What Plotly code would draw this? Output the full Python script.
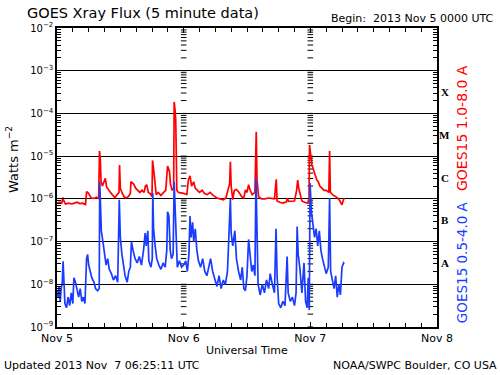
import pandas as pd
import plotly.graph_objects as go

# ---- data (hours since 2013-11-05 00:00 UTC, log10 flux in W m^-2) ----
long_hours = [0.0, 0.5, 0.9, 1.1, 1.3, 1.6, 2.2, 2.8, 3.3, 3.8, 4.3, 4.8, 5.4, 5.6, 5.9, 6.2, 6.5, 7.0, 7.5, 7.9,
              8.05, 8.2, 8.35, 8.6, 8.9, 9.16, 9.4, 9.8, 10.2, 10.6, 11.0, 11.4, 11.75, 11.85, 12.0, 12.3, 12.7,
              13.1, 13.5, 13.9, 14.0, 14.5, 14.9, 15.3, 15.7, 16.1, 16.5, 16.75, 17.0, 17.3, 17.7, 18.0, 18.1,
              18.3, 18.5, 18.8, 19.2, 19.7, 20.2, 20.6, 20.95, 21.3, 21.5, 21.8, 22.1, 22.2, 22.35, 22.5, 22.7,
              23.0, 23.5, 24.0, 24.6, 24.9, 25.2, 25.5, 25.9, 26.2, 26.6, 27.0, 27.5, 28.0, 28.5, 29.0, 29.6,
              30.3, 30.9, 31.5, 32.0, 32.4, 32.7, 32.85, 33.0, 33.3, 33.6, 34.0, 34.5, 35.0, 35.4, 35.7, 36.0,
              36.3, 36.6, 37.0, 37.5, 37.75, 37.9, 38.2, 38.8, 39.4, 40.0, 40.6, 41.2, 41.55, 41.7, 42.2, 42.8,
              43.5, 43.6, 43.9, 44.5, 45.0, 45.4, 45.6, 45.8, 46.1, 46.4, 46.9, 47.4, 47.75, 47.85, 48.0, 48.3,
              48.6, 48.9, 49.2, 49.5, 49.8, 50.2, 50.6, 51.0, 51.5, 51.65, 51.8, 52.2, 52.7, 53.2, 53.6, 54.0,
              54.2, 54.44]
long_logflux = [-6.10, -6.08, -6.10, -5.97, -6.05, -6.12, -6.10, -6.12, -6.10, -6.08, -6.11, -6.10, -6.13, -5.83,
                -5.86, -5.92, -5.98, -5.99, -5.96, -6.00, -4.88, -5.05, -5.60, -5.70, -5.62, -5.52, -5.72, -5.80,
                -5.86, -5.92, -5.97, -5.90, -5.85, -5.21, -5.75, -5.85, -5.95, -5.98, -5.95, -5.88, -5.60, -5.65,
                -5.75, -5.80, -5.85, -5.80, -5.85, -5.70, -5.67, -5.85, -5.88, -5.95, -5.10, -5.30, -5.60, -5.90,
                -5.85, -5.92, -5.85, -5.80, -5.23, -5.35, -5.65, -5.80, -5.75, -3.73, -3.90, -4.16, -5.80, -5.85,
                -5.86, -5.87, -5.90, -5.55, -5.46, -5.70, -5.60, -5.75, -5.80, -5.85, -5.80, -5.88, -5.90, -5.85,
                -5.92, -5.98, -6.00, -6.02, -5.98, -5.75, -5.65, -5.13, -5.70, -6.02, -5.80, -5.78, -5.85, -5.95,
                -5.98, -5.79, -5.85, -5.67, -5.80, -5.90, -5.85, -4.43, -5.56, -5.95, -6.00, -6.00, -5.98, -5.99,
                -6.00, -5.54, -6.05, -6.08, -6.10, -6.07, -5.98, -6.06, -6.06, -6.05, -5.80, -5.56, -5.75, -5.90,
                -6.05, -6.08, -6.10, -6.05, -4.74, -4.90, -5.20, -5.32, -5.45, -5.55, -5.60, -5.70, -5.75, -5.80,
                -5.80, -5.85, -4.88, -5.85, -5.90, -5.95, -5.98, -6.05, -6.14, -6.05, -5.98]

short_hours = [0.0, 0.2, 0.4, 0.6, 0.8, 1.0, 1.15, 1.3, 1.5, 1.8, 2.1, 2.4, 2.7, 3.0, 3.2, 3.5, 3.8, 4.1, 4.4, 4.7,
               5.0, 5.3, 5.6, 5.8, 6.0, 6.3, 6.6, 7.0, 7.3, 7.7, 8.0, 8.1, 8.25, 8.4, 8.7, 9.0, 9.3, 9.6, 9.9, 10.3,
               10.7, 11.1, 11.5, 11.8, 12.0, 12.3, 12.6, 12.9, 13.3, 13.6, 13.9, 14.1, 14.4, 14.8, 15.2, 15.6, 16.0,
               16.4, 16.7, 16.9, 17.2, 17.4, 17.8, 18.05, 18.15, 18.3, 18.6, 18.9, 19.3, 19.7, 20.1, 20.5, 20.8,
               20.95, 21.2, 21.45, 21.7, 22.0, 22.2, 22.35, 22.55, 22.8, 23.2, 23.6, 24.0, 24.4, 24.7, 25.0, 25.2,
               25.4, 25.7, 25.9, 26.2, 26.5, 26.8, 27.2, 27.6, 28.0, 28.4, 28.8, 29.1, 29.5, 29.9, 30.3, 30.7,
               31.1, 31.5, 31.9, 32.3, 32.6, 32.85, 33.0, 33.3, 33.7, 34.0, 34.4, 34.8, 35.1, 35.4, 35.7, 36.0,
               36.3, 36.6, 36.9, 37.2, 37.5, 37.7, 37.85, 38.1, 38.5, 38.9, 39.3, 39.7, 40.1, 40.4, 40.8, 41.2,
               41.5, 41.7, 42.0, 42.4, 42.8, 43.2, 43.6, 43.8, 44.2, 44.6, 45.0, 45.3, 45.5, 45.7, 46.0, 46.4,
               46.8, 47.1, 47.4, 47.6, 47.8, 47.95, 48.2, 48.5, 48.8, 49.1, 49.4, 49.7, 50.0, 50.3, 50.6, 51.0,
               51.4, 51.65, 51.85, 52.2, 52.5, 52.8, 53.1, 53.4, 53.7, 54.0, 54.3, 54.44]
short_logflux = [-8.16, -8.30, -8.05, -8.40, -8.10, -7.95, -7.46, -8.00, -8.45, -8.55, -8.30, -8.50, -8.20, -8.45,
                 -7.85, -7.95, -8.15, -8.30, -8.10, -8.40, -8.30, -8.45, -7.40, -7.30, -7.55, -7.70, -7.85, -7.95,
                 -8.10, -8.15, -8.10, -5.60, -6.20, -6.75, -7.00, -7.30, -7.55, -7.40, -7.65, -7.75, -7.90, -7.80,
                 -7.95, -6.02, -6.90, -7.30, -7.60, -7.80, -7.95, -7.70, -7.60, -7.00, -7.20, -7.40, -7.50, -7.35,
                 -7.55, -7.20, -6.80, -7.10, -6.75, -7.45, -7.60, -7.40, -5.87, -6.70, -7.10, -7.40, -7.55, -7.65,
                 -7.50, -7.60, -7.20, -6.30, -6.40, -7.20, -7.40, -7.30, -5.60, -6.20, -7.10, -7.60, -7.45, -7.60,
                 -7.55, -7.45, -7.70, -7.30, -6.40, -6.90, -6.55, -7.00, -6.70, -7.20, -7.45, -7.60, -7.40, -7.70,
                 -7.80, -7.60, -7.40, -7.70, -7.90, -8.05, -7.80, -8.10, -7.90, -8.00, -7.70, -6.60, -6.00, -6.80,
                 -7.10, -6.75, -7.40, -7.70, -7.90, -7.60, -8.10, -8.15, -7.80, -6.95, -7.40, -7.70, -7.55, -7.80,
                 -5.52, -6.80, -8.00, -8.25, -8.00, -8.20, -7.90, -8.10, -7.75, -8.00, -8.20, -6.70, -7.80, -8.45,
                 -8.55, -8.40, -8.50, -7.35, -8.20, -8.40, -8.30, -8.50, -8.20, -6.65, -7.30, -7.60, -8.20, -7.50,
                 -8.40, -8.55, -7.85, -8.60, -5.63, -6.30, -6.60, -6.90, -6.70, -7.10, -6.75, -7.20, -7.40, -7.55,
                 -7.75, -7.60, -5.98, -7.70, -7.90, -8.10, -7.80, -8.30, -8.00, -8.25, -7.60, -7.50, -7.52]

day_labels = ["Nov 5", "Nov 6", "Nov 7", "Nov 8"]
decades = [-9, -8, -7, -6, -5, -4, -3, -2]
class_letters = ["A", "B", "C", "M", "X"]
class_decades = [-8, -7, -6, -5, -4]

start = pd.Timestamp("2013-11-05 00:00")
long_t = [start + pd.Timedelta(hours=h) for h in long_hours]
short_t = [start + pd.Timedelta(hours=h) for h in short_hours]
long_y = [10 ** v for v in long_logflux]
short_y = [10 ** v for v in short_logflux]
day_ts = [start + pd.Timedelta(days=i) for i in range(len(day_labels))]

RED = "#ff0000"
BLUE = "#1a3cff"
FONT = "DejaVu Sans"

fig = go.Figure()

# day-boundary log tick marks (inner dashed axes)
mark_x, mark_y = [], []
for d in day_ts[1:3]:
    for k in decades[:-1]:
        for m in range(1, 10):
            mark_x.append(d)
            mark_y.append(m * 10 ** k)
fig.add_trace(go.Scatter(x=mark_x, y=mark_y, mode="markers", hoverinfo="skip",
                         marker=dict(symbol="line-ew", size=4, line=dict(width=1, color="black")),
                         showlegend=False))

fig.add_trace(go.Scatter(x=long_t, y=long_y, mode="lines", line=dict(color=RED, width=1.7),
                         showlegend=False))
fig.add_trace(go.Scatter(x=short_t, y=short_y, mode="lines", line=dict(color=BLUE, width=1.7),
                         showlegend=False))

fig.update_layout(
    width=500, height=375,
    margin=dict(l=57, r=63, t=28, b=48),
    paper_bgcolor="white", plot_bgcolor="white",
    font=dict(family=FONT, size=11, color="black"),
    showlegend=False,
)

fig.update_xaxes(
    type="date",
    range=[day_ts[0], day_ts[-1]],
    tickvals=day_ts, ticktext=day_labels,
    ticks="inside", ticklen=5, tickcolor="black",
    minor=dict(dtick=3 * 3600 * 1000, ticks="inside", ticklen=4, tickcolor="black"),
    showline=True, linecolor="black", linewidth=1.5, mirror="ticks",
    showgrid=False, zeroline=False,
    tickfont=dict(size=11),
)

fig.update_yaxes(
    type="log",
    range=[decades[0], decades[-1]],
    tickvals=[10 ** k for k in decades],
    ticktext=["10<sup>\u2212%d</sup>" % (-k) for k in decades],
    ticks="inside", ticklen=7, tickcolor="black",
    minor=dict(dtick="D1", ticks="inside", ticklen=4, tickcolor="black", showgrid=False),
    showline=True, linecolor="black", linewidth=1.5, mirror="ticks",
    showgrid=True, gridcolor="black", gridwidth=1.3,
    zeroline=False,
    tickfont=dict(size=10),
)

# paper coords: x = (px-57)/380, y = (327-py)/299
ann = []
ann.append(dict(text="GOES Xray Flux (5 minute data)", x=-0.085, y=1.05, xref="paper", yref="paper",
                xanchor="left", yanchor="middle", showarrow=False, font=dict(size=14.5)))
ann.append(dict(text="Begin:  2013 Nov 5 0000 UTC", x=1.155, y=1.033, xref="paper", yref="paper",
                xanchor="right", yanchor="middle", showarrow=False, font=dict(size=11)))
ann.append(dict(text="Universal Time", x=0.5, y=-0.077, xref="paper", yref="paper",
                xanchor="center", yanchor="middle", showarrow=False, font=dict(size=11)))
ann.append(dict(text="Updated 2013 Nov  7 06:25:11 UTC", x=-0.145, y=-0.13, xref="paper", yref="paper",
                xanchor="left", yanchor="middle", showarrow=False, font=dict(size=11)))
ann.append(dict(text="NOAA/SWPC Boulder, CO USA", x=1.163, y=-0.13, xref="paper", yref="paper",
                xanchor="right", yanchor="middle", showarrow=False, font=dict(size=11)))
ann.append(dict(text="Watts m<sup>\u22122</sup>", x=-0.118, y=0.559, xref="paper", yref="paper",
                xanchor="center", yanchor="middle", textangle=-90, showarrow=False, font=dict(size=13)))
for letter, k in zip(class_letters, class_decades):
    ann.append(dict(text="<b>%s</b>" % letter, x=1.021, y=k + 0.5, xref="paper", yref="y",
                    xanchor="center", yanchor="middle", showarrow=False,
                    font=dict(family="Liberation Serif", size=11)))
ann.append(dict(text="GOES15 1.0-8.0 A", x=1.066, y=-4.34, xref="paper", yref="y",
                xanchor="center", yanchor="middle", textangle=-90, showarrow=False,
                font=dict(size=14, color=RED)))
ann.append(dict(text="GOES15 0.5-4.0 A", x=1.066, y=-7.48, xref="paper", yref="y",
                xanchor="center", yanchor="middle", textangle=-90, showarrow=False,
                font=dict(size=13.5, color=BLUE)))
fig.update_layout(annotations=ann)

fig.write_html("out.html", config={"displayModeBar": False},
               post_script="document.body.style.margin='0px';document.body.style.padding='0px';")
